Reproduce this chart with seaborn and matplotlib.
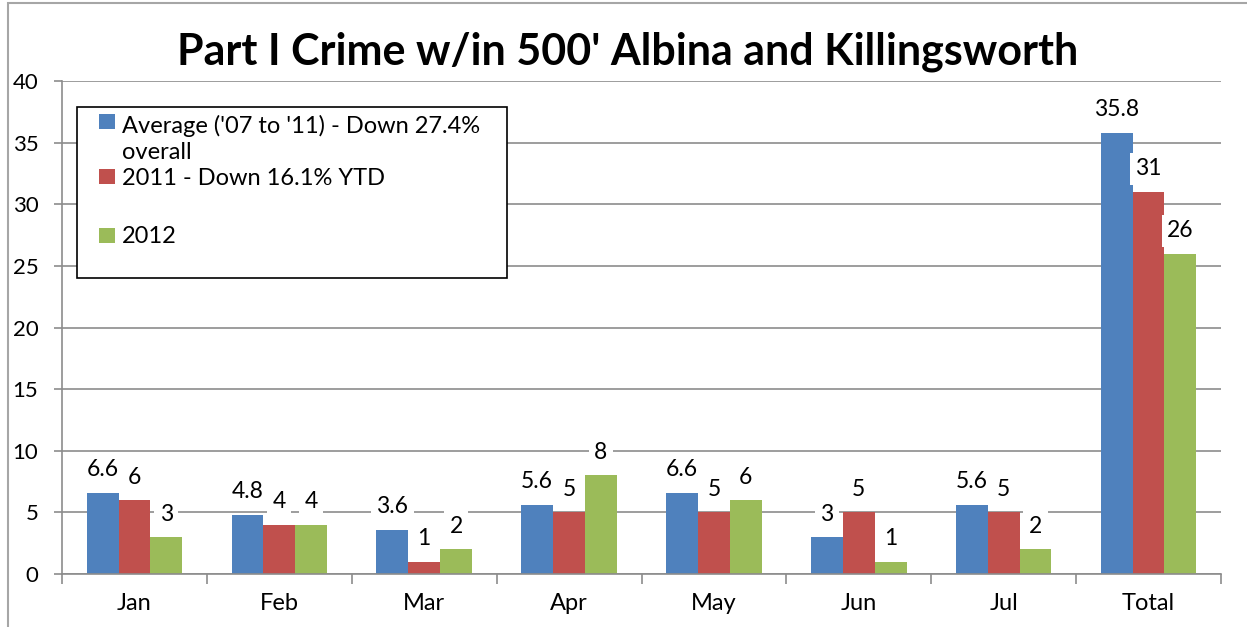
import numpy as np
import pandas as pd
import seaborn as sns
import matplotlib.pyplot as plt
from matplotlib.patches import Rectangle

months = ["Jan", "Feb", "Mar", "Apr", "May", "Jun", "Jul", "Total"]
series_names = [
    "Average ('07 to '11) - Down 27.4%\noverall",
    "2011 - Down 16.1% YTD",
    "2012",
]
avg_07_11 = [6.6, 4.8, 3.6, 5.6, 6.6, 3, 5.6, 35.8]
y2011 = [6, 4, 1, 5, 5, 5, 5, 31]
y2012 = [3, 4, 2, 8, 6, 1, 2, 26]
colors = ["#4F81BD", "#C0504D", "#9BBB59"]

df = pd.DataFrame({
    "month": months * 3,
    "series": np.repeat(series_names, len(months)),
    "count": avg_07_11 + y2011 + y2012,
})

W, H = 1247, 627


def fx(px):
    return px / W


def fy(py):
    return 1 - py / H


sns.set_style("white")
plt.rcParams["font.family"] = ["Lato", "DejaVu Sans"]
plt.rcParams["text.color"] = "black"
plt.rcParams["xtick.color"] = "#8c8c8c"
plt.rcParams["ytick.color"] = "#8c8c8c"
plt.rcParams["xtick.labelcolor"] = "black"
plt.rcParams["ytick.labelcolor"] = "black"

fig = plt.figure(figsize=(W / 100, H / 100), dpi=100)
ax = fig.add_axes([fx(62), fy(574), (1221 - 62) / W, (574 - 81) / H])

sns.barplot(
    data=df, x="month", y="count", hue="series",
    palette=colors, width=0.66, gap=0, saturation=1,
    linewidth=0, legend=False, ax=ax,
)

for cont in ax.containers:
    ax.bar_label(
        cont, labels=[f"{v:g}" for v in cont.datavalues],
        padding=9, fontsize=16.5, color="black",
        bbox=dict(facecolor="white", edgecolor="none", pad=4),
    )

ax.set_ylim(0, 40)
ax.set_xlim(-0.5, len(months) - 0.5)
ax.set_yticks(range(0, 41, 5))
ax.set_xlabel("")
ax.set_ylabel("")
ax.yaxis.grid(True, color="#8c8c8c", linewidth=1.2)
ax.set_axisbelow(True)
for side in ["top", "right"]:
    ax.spines[side].set_visible(False)
for side in ["left", "bottom"]:
    ax.spines[side].set_color("#8c8c8c")
    ax.spines[side].set_linewidth(1.2)

ax.tick_params(axis="y", which="major", length=6, width=1.2,
               labelsize=16, pad=11, left=True)
ax.tick_params(axis="x", which="major", length=0, labelsize=17, pad=14)
ax.set_xticks(np.arange(-0.5, len(months), 1), minor=True)
ax.tick_params(axis="x", which="minor", length=7, width=1.2, bottom=True)

# legend box drawn by hand, Excel style (marker beside the first text line)
fig.patches.append(Rectangle((fx(77), fy(278)), fx(507) - fx(77), fy(107) - fy(278),
                             transform=fig.transFigure, facecolor="white",
                             edgecolor="black", linewidth=1.2, zorder=5))
line_h = 30
for name, col, yc in zip(series_names, colors, [121, 177, 235]):
    fig.patches.append(Rectangle((fx(99), fy(yc + 7.5)), 16 / W, 15 / H,
                                 transform=fig.transFigure, facecolor=col,
                                 edgecolor="none", zorder=6))
    last_base = yc + 8 + line_h * name.count("\n")
    fig.text(fx(122), fy(last_base), name, ha="left", va="baseline",
             fontsize=17, linespacing=1.27, zorder=6)

fig.text(fx(628), fy(52), "Part I Crime w/in 500' Albina and Killingsworth",
         ha="center", va="center", fontsize=31, fontweight="bold")

fig.patches.append(Rectangle((fx(8), -0.01), 1.5, fy(3) + 0.01,
                             transform=fig.transFigure, fill=False,
                             edgecolor="#a6a6a6", linewidth=1.5))

fig.savefig("out.png", dpi=100)
